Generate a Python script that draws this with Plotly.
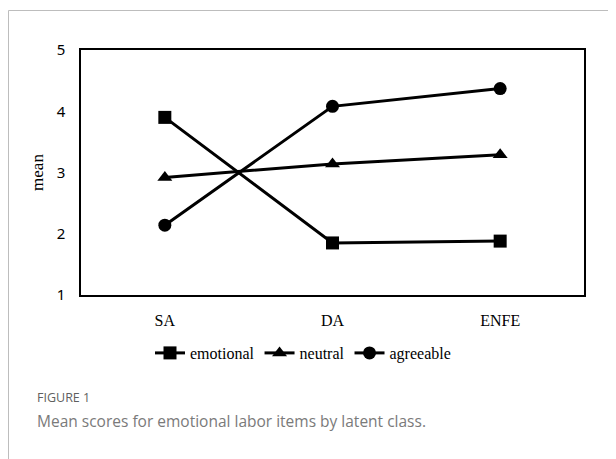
import plotly.graph_objects as go

categories = ["SA", "DA", "ENFE"]
emotional = [3.90, 1.85, 1.88]
neutral = [2.92, 3.14, 3.29]
agreeable = [2.14, 4.08, 4.37]
y_ticks = [1, 2, 3, 4, 5]

OFF = 8  # browser body margin
W, H = 616 - OFF, 459 - OFF
L, R, T, B = 81 - OFF, 32, 50 - OFF, 164
PW, PH = W - L - R, H - T - B

def px(x):
    return (x - OFF - L) / PW

def py(y):
    return (H - B - (y - OFF)) / PH

fig = go.Figure()
series = [("emotional", emotional, "square"), ("neutral", neutral, "triangle-up"), ("agreeable", agreeable, "circle")]
for name, vals, sym in series:
    fig.add_trace(go.Scatter(
        x=categories, y=vals, name=name, mode="lines+markers",
        line=dict(color="black", width=3),
        marker=dict(symbol=sym, size=13, color="black"),
    ))

fig.update_layout(
    width=W, height=H,
    margin=dict(l=L, r=R, t=T, b=B),
    paper_bgcolor="white", plot_bgcolor="white",
    showlegend=True,
    legend=dict(orientation="h", x=px(303), xanchor="center", y=py(353), yanchor="middle",
                font=dict(family="Liberation Serif", size=16, color="black"),
                itemwidth=30, tracegroupgap=0, bgcolor="rgba(0,0,0,0)"),
    xaxis=dict(type="category", range=[-0.5, 2.5], showgrid=False, zeroline=False,
               showline=True, linecolor="black", linewidth=1.5, mirror=True,
               ticks="outside", ticklen=10, tickcolor="rgba(0,0,0,0)",
               tickfont=dict(family="Liberation Serif", size=16, color="black")),
    yaxis=dict(range=[1, 5], tickvals=y_ticks, showgrid=False, zeroline=False,
               showline=True, linecolor="black", linewidth=1.5, mirror=True,
               ticks="outside", ticklen=11, tickcolor="rgba(0,0,0,0)",
               tickfont=dict(family="Noto Sans", size=15, color="black"),
               title=dict(text="mean", font=dict(family="Liberation Serif", size=17, color="black"), standoff=9)),
    shapes=[
        dict(type="line", xref="paper", yref="paper", x0=px(8.5), x1=px(616), y0=py(10.5), y1=py(10.5),
             line=dict(color="#bdbdbd", width=1)),
        dict(type="line", xref="paper", yref="paper", x0=px(8.5), x1=px(8.5), y0=py(10.5), y1=py(459),
             line=dict(color="#bdbdbd", width=1)),
    ],
    annotations=[
        dict(text="FIGURE 1", xref="paper", yref="paper", x=px(35), y=py(397), xanchor="left", yanchor="middle",
             showarrow=False, font=dict(family="Open Sans", size=12.5, color="#5f5f5f")),
        dict(text="Mean scores for emotional labor items by latent class.", xref="paper", yref="paper",
             x=px(35), y=py(421), xanchor="left", yanchor="middle",
             showarrow=False, font=dict(family="Open Sans", size=15.5, color="#7a7a7a")),
    ],
)

fig.write_html("out.html")
